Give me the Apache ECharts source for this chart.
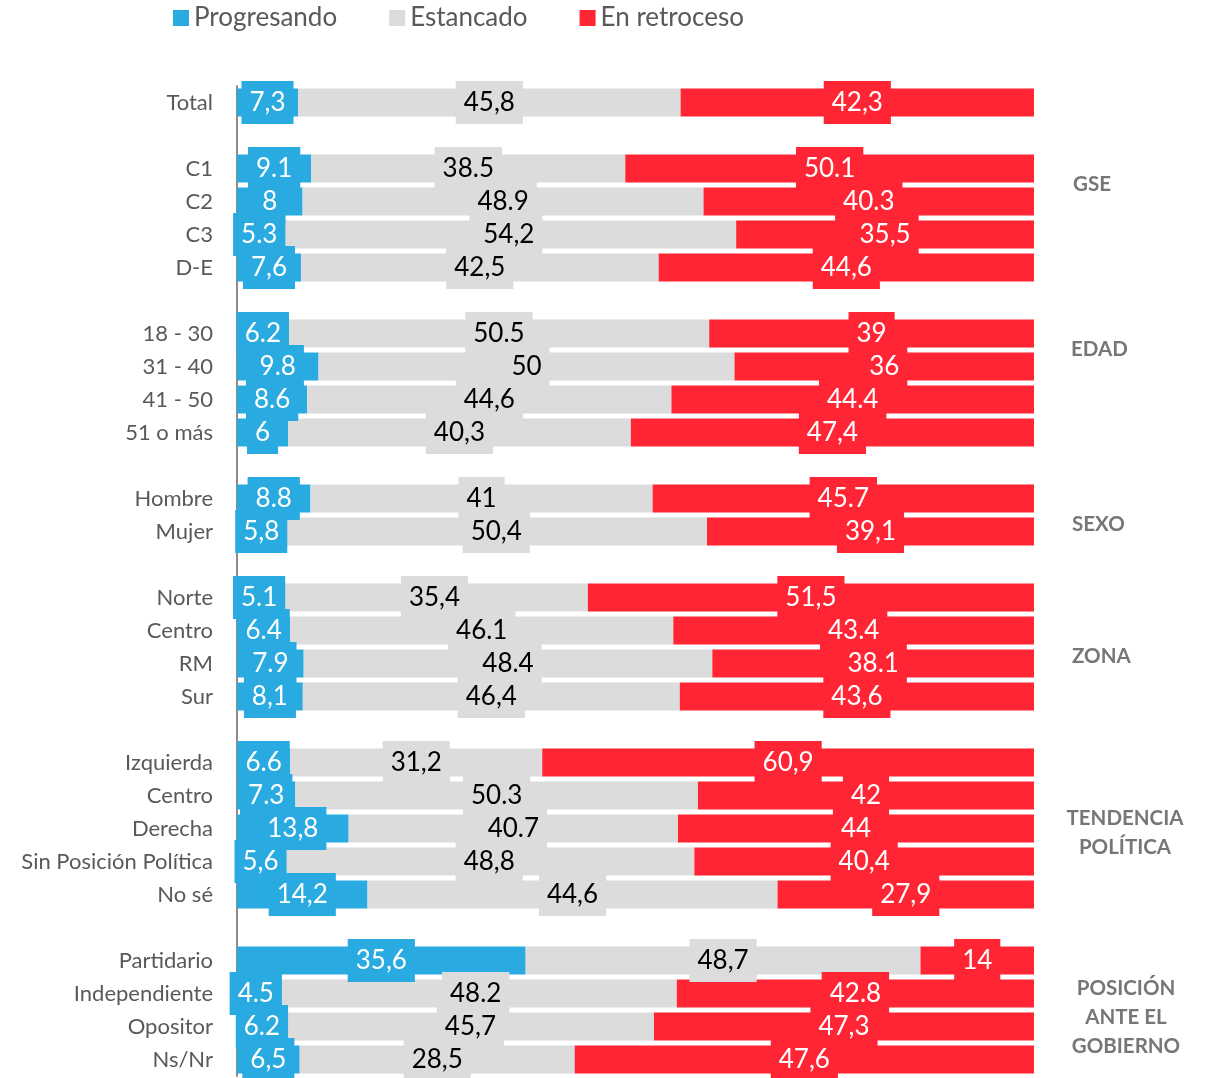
<!DOCTYPE html>
<html>
<head>
<meta charset="utf-8">
<script src="https://cdn.jsdelivr.net/npm/echarts@6/dist/echarts.min.js"></script>
<style>
html,body{margin:0;padding:0;background:#fff;}
#c{width:1210px;height:1078px;}
</style>
</head>
<body>
<div id="c"></div>
<script>
const categories = ['Total','', 'C1','C2','C3','D-E','', '18 - 30','31 - 40','41 - 50','51 o más','', 'Hombre','Mujer','', 'Norte','Centro','RM','Sur','', 'Izquierda','Centro','Derecha','Sin Posición Política','No sé','', 'Partidario','Independiente','Opositor','Ns/Nr'];
const progresando = ['7,3','', '9.1','8','5.3','7,6','', '6.2','9.8','8.6','6','', '8.8','5,8','', '5.1','6.4','7.9','8,1','', '6.6','7.3','13,8','5,6','14,2','', '35,6','4.5','6.2','6,5'];
const estancado = ['45,8','', '38.5','48.9','54,2','42,5','', '50.5','50','44,6','40,3','', '41','50,4','', '35,4','46.1','48.4','46,4','', '31,2','50.3','40.7','48,8','44,6','', '48,7','48.2','45,7','28,5'];
const retroceso = ['42,3','', '50.1','40.3','35,5','44,6','', '39','36','44.4','47,4','', '45.7','39,1','', '51,5','43.4','38.1','43,6','', '60,9','42','44','40,4','27,9','', '14','42.8','47,3','47,6'];
const seriesNames = ['Progresando','Estancado','En retroceso'];
const seriesColors = ['#29ABE2','#DCDCDC','#FF2535'];
const labelColors = ['#ffffff','#000000','#ffffff'];
const groupLabels = [
  {text:'GSE', x:1073, y:184, align:'left'},
  {text:'EDAD', x:1071, y:349, align:'left'},
  {text:'SEXO', x:1072, y:524, align:'left'},
  {text:'ZONA', x:1072, y:656, align:'left'},
  {text:'TENDENCIA\nPOLÍTICA', x:1125, y:833, align:'center'},
  {text:'POSICIÓN\nANTE EL\nGOBIERNO', x:1126, y:1017, align:'center'}
];

const num = s => s === '' ? null : parseFloat(s.replace(',', '.'));
const raw = [progresando, estancado, retroceso];
const totals = categories.map((c, i) => raw.reduce((a, arr) => a + (num(arr[i]) || 0), 0));

const series = raw.map((arr, k) => ({
  name: seriesNames[k],
  type: 'bar',
  stack: 'all',
  barWidth: 28,
  itemStyle: {color: seriesColors[k]},
  data: arr.map((s, i) => s === '' ? null : {value: num(s) / totals[i] * 100}),
  label: {
    show: true,
    position: 'inside',
    formatter: p => arr[p.dataIndex],
    color: labelColors[k],
    fontFamily: 'Lato',
    fontSize: 26,
    backgroundColor: seriesColors[k],
    padding: [4, 8, 0, 8],
    lineHeight: 39
  },
  emphasis: {disabled: true}
}));

const chart = echarts.init(document.getElementById('c'));
chart.setOption({
  animation: false,
  legend: {
    left: 168, top: 0,
    icon: 'rect', itemWidth: 16, itemHeight: 16, itemGap: 52,
    textStyle: {fontFamily: 'Lato', fontSize: 26, color: '#595959'},
    data: seriesNames
  },
  grid: {left: 237, right: 176, top: 86, bottom: 2, containLabel: false},
  xAxis: {type: 'value', min: 0, max: 100, show: false},
  yAxis: {
    type: 'category', inverse: true, data: categories,
    axisLine: {show: true, lineStyle: {color: '#8C8C8C', width: 2}},
    axisTick: {show: false},
    axisLabel: {fontFamily: 'Lato', fontSize: 22, color: '#595959', margin: 24}
  },
  graphic: groupLabels.map(g => ({
    type: 'text', x: g.x, y: g.y,
    style: {text: g.text, fontFamily: 'Lato', fontWeight: 'bold', fontSize: 20.5, fill: '#767676',
      textAlign: g.align, textVerticalAlign: 'middle', lineHeight: 29}
  })),
  series: series
});
</script>
</body>
</html>
